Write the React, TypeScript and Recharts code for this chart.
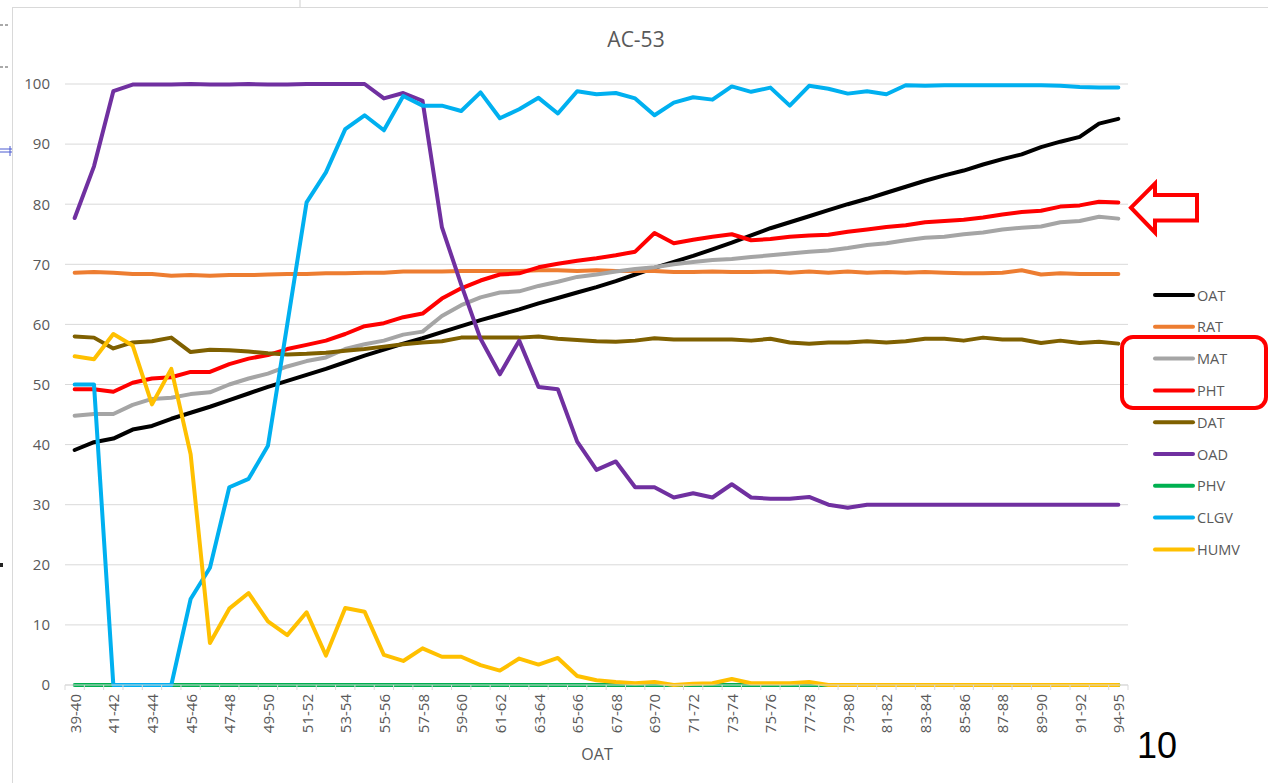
import React from 'react';
import { LineChart, Line, XAxis, YAxis, CartesianGrid } from 'recharts';

// OAT temperature bins (one bin between 91-92 and 94-95 has no data)
const categories = [
  '39-40', '40-41', '41-42', '42-43', '43-44', '44-45', '45-46', '46-47', '47-48', '48-49',
  '49-50', '50-51', '51-52', '52-53', '53-54', '54-55', '55-56', '56-57', '57-58', '58-59',
  '59-60', '60-61', '61-62', '62-63', '63-64', '64-65', '65-66', '66-67', '67-68', '68-69',
  '69-70', '70-71', '71-72', '72-73', '73-74', '74-75', '75-76', '76-77', '77-78', '78-79',
  '79-80', '80-81', '81-82', '82-83', '83-84', '84-85', '85-86', '86-87', '87-88', '88-89',
  '89-90', '90-91', '91-92', '92-93', '94-95',
];

const oat = [
  39.1, 40.4, 41.0, 42.5, 43.1, 44.3, 45.3, 46.3, 47.4, 48.5,
  49.6, 50.6, 51.6, 52.6, 53.7, 54.8, 55.8, 56.8, 57.7, 58.7,
  59.7, 60.7, 61.6, 62.5, 63.5, 64.4, 65.3, 66.2, 67.2, 68.3,
  69.4, 70.4, 71.4, 72.5, 73.6, 74.8, 76.0, 77.0, 78.0, 79.0,
  80.0, 80.9, 81.9, 82.9, 83.9, 84.8, 85.6, 86.6, 87.5, 88.3,
  89.5, 90.4, 91.2, 93.4, 94.2,
];

const rat = [
  68.6, 68.7, 68.6, 68.4, 68.4, 68.1, 68.2, 68.1, 68.2, 68.2,
  68.3, 68.4, 68.4, 68.5, 68.5, 68.6, 68.6, 68.8, 68.8, 68.8,
  68.9, 68.9, 68.9, 68.9, 69.0, 69.0, 68.9, 69.0, 68.9, 68.9,
  68.9, 68.7, 68.7, 68.8, 68.7, 68.7, 68.8, 68.6, 68.8, 68.6,
  68.8, 68.6, 68.7, 68.6, 68.7, 68.6, 68.5, 68.5, 68.6, 69.0,
  68.3, 68.5, 68.4, 68.4, 68.4,
];

const mat = [
  44.8, 45.1, 45.1, 46.6, 47.6, 47.8, 48.4, 48.7, 50.0, 51.0,
  51.8, 53.0, 53.9, 54.5, 55.9, 56.7, 57.3, 58.3, 58.8, 61.4,
  63.2, 64.5, 65.3, 65.5, 66.4, 67.1, 67.9, 68.3, 68.8, 69.2,
  69.5, 70.0, 70.4, 70.7, 70.9, 71.2, 71.5, 71.8, 72.1, 72.3,
  72.7, 73.2, 73.5, 74.0, 74.4, 74.6, 75.0, 75.3, 75.8, 76.1,
  76.3, 77.0, 77.2, 77.9, 77.6,
];

const pht = [
  49.2, 49.2, 48.8, 50.3, 51.0, 51.2, 52.1, 52.1, 53.4, 54.3,
  54.9, 55.9, 56.6, 57.3, 58.4, 59.7, 60.2, 61.2, 61.8, 64.3,
  66.0, 67.3, 68.3, 68.5, 69.5, 70.1, 70.6, 71.0, 71.5, 72.1,
  75.2, 73.5, 74.1, 74.6, 75.0, 74.0, 74.2, 74.6, 74.8, 74.9,
  75.4, 75.8, 76.2, 76.5, 77.0, 77.2, 77.4, 77.8, 78.3, 78.7,
  78.9, 79.6, 79.8, 80.4, 80.3,
];

const dat = [
  58.0, 57.8, 56.0, 57.0, 57.2, 57.8, 55.4, 55.8, 55.7, 55.5,
  55.2, 55.0, 55.1, 55.3, 55.6, 55.9, 56.3, 56.7, 57.0, 57.2,
  57.8, 57.8, 57.8, 57.8, 58.0, 57.6, 57.4, 57.2, 57.1, 57.3,
  57.7, 57.5, 57.5, 57.5, 57.5, 57.3, 57.6, 57.0, 56.8, 57.0,
  57.0, 57.2, 57.0, 57.2, 57.6, 57.6, 57.3, 57.8, 57.5, 57.5,
  56.9, 57.3, 56.9, 57.1, 56.8,
];

const oad = [
  77.7, 86.3, 98.8, 99.9, 99.9, 99.9, 100, 99.9, 99.9, 100,
  99.9, 99.9, 100, 100, 100, 100, 97.6, 98.5, 97.2, 76.2,
  66.6, 57.6, 51.7, 57.3, 49.6, 49.2, 40.5, 35.8, 37.2, 32.9,
  32.9, 31.2, 31.9, 31.2, 33.4, 31.2, 31.0, 31.0, 31.3, 30.0,
  29.5, 30, 30, 30, 30, 30, 30, 30, 30, 30,
  30, 30, 30, 30, 30,
];

const phv = [
  0, 0, 0, 0, 0, 0, 0, 0, 0, 0,
  0, 0, 0, 0, 0, 0, 0, 0, 0, 0,
  0, 0, 0, 0, 0, 0, 0, 0, 0, 0,
  0, 0, 0, 0, 0, 0, 0, 0, 0, 0,
  0, 0, 0, 0, 0, 0, 0, 0, 0, 0,
  0, 0, 0, 0, 0,
];

const clgv = [
  50, 50, 0, 0, 0, 0, 14.3, 19.5, 32.9, 34.3,
  39.8, 60.0, 80.3, 85.3, 92.5, 94.8, 92.3, 98.0, 96.4, 96.4,
  95.5, 98.6, 94.3, 95.8, 97.7, 95.1, 98.8, 98.3, 98.5, 97.6,
  94.8, 96.9, 97.8, 97.4, 99.6, 98.7, 99.4, 96.4, 99.7, 99.2,
  98.4, 98.8, 98.3, 99.8, 99.7, 99.8, 99.8, 99.8, 99.8, 99.8,
  99.8, 99.7, 99.5, 99.4, 99.4,
];

const humv = [
  54.7, 54.2, 58.4, 56.5, 46.7, 52.6, 38.4, 7.0, 12.7, 15.3,
  10.6, 8.3, 12.1, 4.9, 12.8, 12.2, 5.0, 4.0, 6.1, 4.7,
  4.7, 3.3, 2.4, 4.4, 3.4, 4.5, 1.5, 0.8, 0.5, 0.3,
  0.5, 0, 0.2, 0.3, 1.0, 0.3, 0.3, 0.3, 0.5, 0,
  0, 0, 0, 0, 0, 0, 0, 0, 0, 0,
  0, 0, 0, 0, 0,
];

const yTicks = [0, 10, 20, 30, 40, 50, 60, 70, 80, 90, 100];

const series = [
  { key: 'OAT', color: '#000000', values: oat },
  { key: 'RAT', color: '#ED7D31', values: rat },
  { key: 'MAT', color: '#A5A5A5', values: mat },
  { key: 'PHT', color: '#FF0000', values: pht },
  { key: 'DAT', color: '#7F6000', values: dat },
  { key: 'OAD', color: '#7030A0', values: oad },
  { key: 'PHV', color: '#00B050', values: phv },
  { key: 'CLGV', color: '#00B0F0', values: clgv },
  { key: 'HUMV', color: '#FFC000', values: humv },
];

const data = categories.map((cat, i) => {
  const row: Record<string, string | number> = { cat };
  series.forEach((s) => {
    row[s.key] = s.values[i];
  });
  return row;
});

const W = 1268;
const H = 783;
const PLOT_LEFT = 65;
const PLOT_RIGHT = 1128;
const PLOT_TOP = 84;
const PLOT_BOTTOM = 685;
const STEP = (PLOT_RIGHT - PLOT_LEFT) / categories.length;

const FONT = "'Open Sans', 'Liberation Sans', sans-serif";
const TEXT_GRAY = '#595959';
const GRID = '#d9d9d9';
const LINE_W = 4;

function CategoryTick(props: any) {
  const { x, payload, index } = props;
  const isLast = index === categories.length - 1;
  return (
    <g>
      <line x1={x - STEP / 2} x2={x - STEP / 2} y1={PLOT_BOTTOM} y2={PLOT_BOTTOM + 5} stroke={GRID} />
      {isLast && (
        <line x1={x + STEP / 2} x2={x + STEP / 2} y1={PLOT_BOTTOM} y2={PLOT_BOTTOM + 5} stroke={GRID} />
      )}
      {index % 2 === 0 && (
        <text
          transform={`translate(${x},${PLOT_BOTTOM + 9}) rotate(-90)`}
          textAnchor="end"
          dominantBaseline="central"
          fill={TEXT_GRAY}
          fontSize={15}
          fontFamily={FONT}
        >
          {payload.value}
        </text>
      )}
    </g>
  );
}

const LEGEND_X = 1155;
const LEGEND_Y = 295;
const LEGEND_GAP = 31.8;

export default function App() {
  return (
    <div style={{ position: 'absolute', left: 0, top: 0, width: W, height: H, background: '#fff', fontFamily: FONT, overflow: 'hidden' }}>
      <div
        style={{
          position: 'absolute',
          left: 12,
          top: 7,
          width: W,
          height: H,
          borderLeft: `1px solid ${GRID}`,
          borderTop: `1px solid ${GRID}`,
        }}
      />
      <div style={{ position: 'absolute', left: 0, top: 0 }}>
        <LineChart
          width={W}
          height={H}
          data={data}
          margin={{ top: PLOT_TOP, right: W - PLOT_RIGHT, bottom: 0, left: 0 }}
        >
          <CartesianGrid horizontal vertical={false} stroke={GRID} strokeWidth={1} />
          <XAxis
            dataKey="cat"
            interval={0}
            height={H - PLOT_BOTTOM}
            padding={{ left: STEP / 2, right: STEP / 2 }}
            tickLine={false}
            axisLine={{ stroke: GRID, strokeWidth: 1 }}
            tick={<CategoryTick />}
          />
          <YAxis
            width={PLOT_LEFT}
            domain={[0, 100]}
            ticks={yTicks}
            interval={0}
            axisLine={false}
            tickLine={false}
            tickSize={0}
            tickMargin={15}
            tick={{ fill: TEXT_GRAY, fontSize: 15, fontFamily: FONT }}
          />
          {series.map((s) => (
            <Line
              key={s.key}
              dataKey={s.key}
              type="linear"
              stroke={s.color}
              strokeWidth={LINE_W}
              strokeLinejoin="round"
              strokeLinecap="round"
              dot={false}
              activeDot={false}
              isAnimationActive={false}
            />
          ))}
        </LineChart>
      </div>
      <svg
        width={W}
        height={H}
        style={{ position: 'absolute', left: 0, top: 0, pointerEvents: 'none' }}
      >
        {/* slide edge marks */}
        <line x1={0} x2={10} y1={25} y2={25} stroke="#555" strokeWidth={1} strokeDasharray="3 2" />
        <line x1={0} x2={10} y1={67} y2={67} stroke="#555" strokeWidth={1} strokeDasharray="3 2" />
        <line x1={0} x2={12} y1={149} y2={149} stroke="#4a5bd0" strokeWidth={1} />
        <line x1={0} x2={12} y1={152} y2={152} stroke="#4a5bd0" strokeWidth={1} />
        <line x1={10} x2={10} y1={146} y2={156} stroke="#4a5bd0" strokeWidth={1} />
        <rect x={0} y={563} width={3} height={4} fill="#222" />
        <line x1={300} x2={300} y1={0} y2={7} stroke="#cfcfcf" strokeWidth={1} />

        {/* title */}
        <text x={636} y={47} textAnchor="middle" fontSize={21} fill={TEXT_GRAY} fontFamily={FONT}>
          AC-53
        </text>

        {/* category axis title */}
        <text x={597} y={760} textAnchor="middle" fontSize={16} fill={TEXT_GRAY} fontFamily={FONT}>
          OAT
        </text>

        {/* legend */}
        {series.map((s, i) => {
          const y = LEGEND_Y + i * LEGEND_GAP;
          return (
            <g key={s.key}>
              <line x1={LEGEND_X} x2={LEGEND_X + 38} y1={y} y2={y} stroke={s.color} strokeWidth={LINE_W} strokeLinecap="round" />
              <text x={LEGEND_X + 42} y={y} dominantBaseline="central" fontSize={14.5} fill={TEXT_GRAY} fontFamily={FONT}>
                {s.key}
              </text>
            </g>
          );
        })}

        {/* highlight arrow pointing at the PHT/MAT line ends */}
        <path
          d="M1131,207.7 L1155,183.5 L1155,195 L1197,195 L1197,220.5 L1155,220.5 L1155,232.5 Z"
          fill="#fff"
          stroke="#FF0000"
          strokeWidth={4}
          strokeLinejoin="miter"
        />
        {/* highlight box around MAT and PHT legend entries */}
        <rect x={1122} y={337} width={144} height={71} rx={11} ry={11} fill="none" stroke="#FF0000" strokeWidth={4} />

        {/* page number */}
        <text x={1137} y={758} fontSize={36} fill="#000" fontFamily="'Liberation Sans', Arial, sans-serif">
          10
        </text>
      </svg>
    </div>
  );
}
